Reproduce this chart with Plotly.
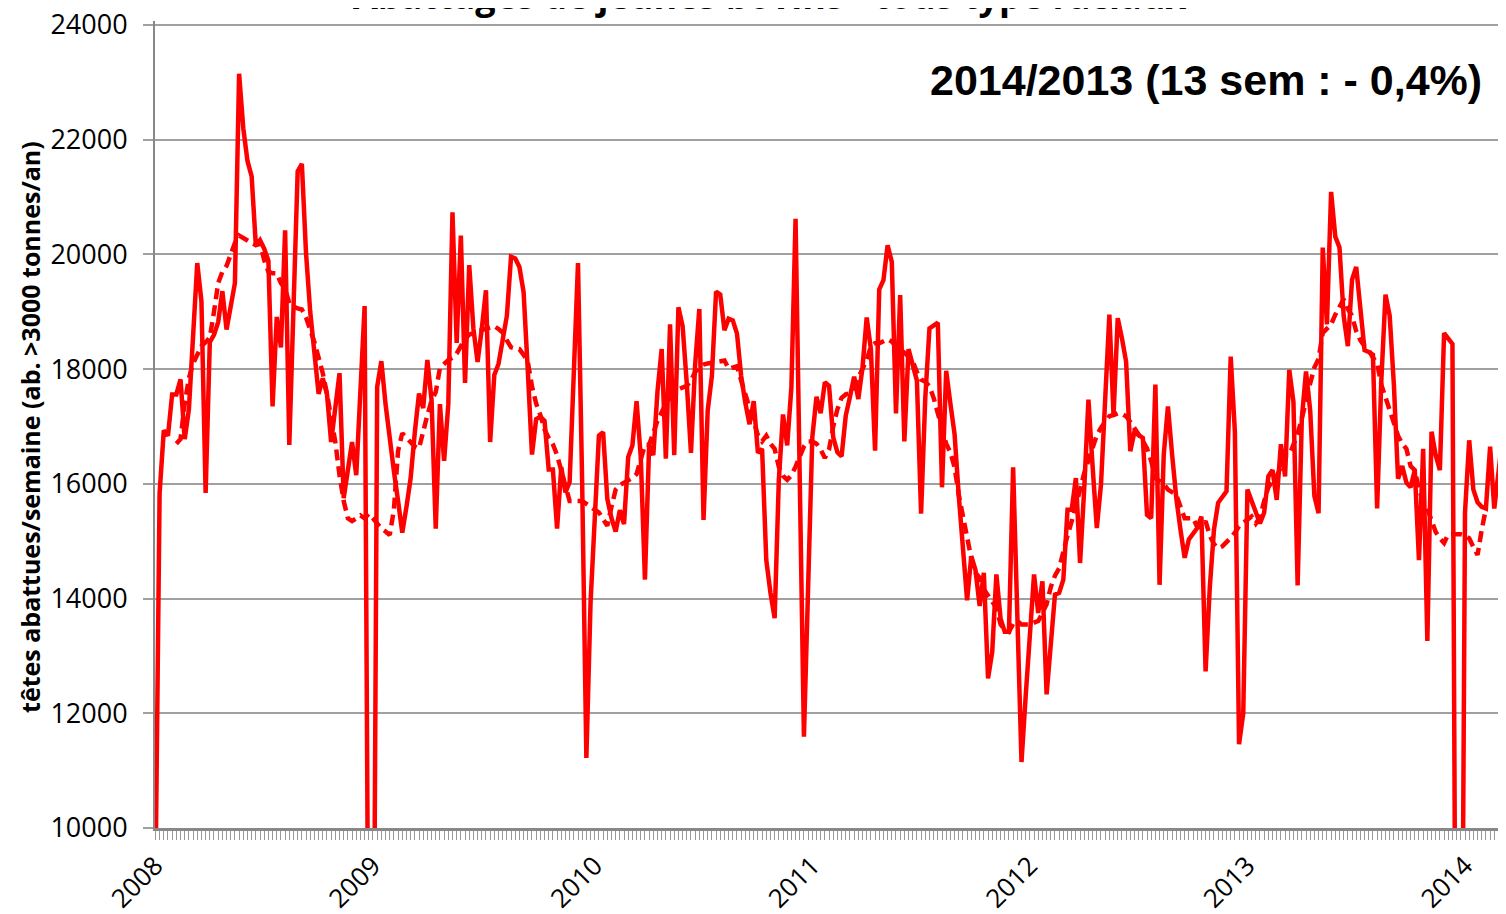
"""
Abattages de jeunes bovins - tous types raciaux.
Weekly heads slaughtered (solid) with its smoothed trend (dashed), 2008 - 2014.
"""

import plotly.graph_objects as go

# --- Data (weekly values) ---
# Solid line, one value per week, index 0 = first week of 2008
weeks_2008 = [9000, 15840, 16930, 16840, 17560, 17560, 17820, 16780, 17300, 18500,
              19850, 19180, 15840, 18470, 18600, 18820, 19360, 18690, 19100, 19500,
              23150, 22200, 21630, 21360, 20160, 20250, 20100, 19890, 17350, 18910,
              18380, 20420, 16680, 19000, 21450, 21580, 20020, 19000, 18200, 17570,
              17840, 17570, 16730, 17300, 17930, 15750, 16240, 16730, 16150, 17600,
              19100, 6000]
weeks_2009 = [4500, 17690, 18140, 17390, 16730, 16220, 15700, 15150, 15600, 16100,
              16900, 17575, 17320, 18160, 17460, 15220, 17390, 16400, 17390, 20735,
              18456, 20330, 17760, 19815, 18710, 18125, 18700, 19375, 16730, 17900,
              18090, 18490, 18930, 19960, 19930, 19780, 19340, 17980, 16510, 17130,
              17170, 17100, 16250, 16250, 15220, 16290, 15850, 16030, 17900, 19850,
              16000, 11220, 13930]
weeks_2010 = [15600, 16840, 16900, 15740, 15400, 15170, 15540, 15300, 16470, 16670,
              17440, 16470, 14330, 16670, 16500, 17610, 18350, 16440, 18780, 16500,
              19080, 18750, 17750, 16540, 18080, 19050, 15370, 17280, 17880, 19350,
              19300, 18680, 18880, 18850, 18620, 17880, 17410, 17040, 17440, 16540,
              16610, 14670, 14100, 13660, 16070, 17210, 16670, 17680, 20620, 16000,
              11590, 14200]
weeks_2011 = [16810, 17520, 17230, 17770, 17710, 16810, 16550, 16480, 17190, 17520,
              17870, 17480, 18030, 18900, 18350, 16580, 19390, 19550, 20160, 19870,
              17230, 19290, 16740, 18350, 18100, 17800, 15480, 17500, 18710, 18760,
              18810, 15940, 17970, 17400, 16870, 15800, 14900, 13970, 14740, 14500,
              13870, 14450, 12610, 13070, 14420, 13650, 13420, 13420, 16290, 13700,
              11150, 12300]
weeks_2012 = [13500, 14420, 13750, 14300, 12330, 13140, 14070, 14100, 14330, 15550,
              15550, 16100, 14620, 15930, 17470, 16300, 15230, 15990, 17490, 18950,
              17200, 18890, 18540, 18130, 16570, 16910, 16850, 16800, 15460, 15400,
              17730, 14240, 16510, 17350, 16510, 15750, 15200, 14710, 15030, 15140,
              15230, 15430, 12730, 14190, 15200, 15670, 15770, 15870, 18220, 16910,
              11460, 12000]
weeks_2013 = [15900, 15700, 15500, 15310, 15500, 16130, 16240, 15720, 16690, 16130,
              17990, 17430, 14230, 17140, 17960, 17280, 15790, 15490, 20120, 18780,
              21090, 20310, 20120, 18930, 18400, 19560, 19780, 19070, 18330, 18300,
              18250, 15570, 17800, 19300, 18930, 17730, 16090, 16310, 16020, 15940,
              16240, 14670, 16610, 13260, 16910, 16500, 16240, 18630, 18540, 18440,
              3000, 3000]
weeks_2014 = [15500, 16760, 15900, 15680, 15600, 15570, 16650, 15570, 16200, 16840]

# Dashed trend line, starts at week index 5
TREND_START = 5
trend_2008 = [16700, 16780, 17400, 17840, 18100, 18240, 18400, 18470, 18550, 19000,
              19500, 19700, 19800, 20000, 20200, 20330, 20280, 20250, 20200, 20160,
              20200, 19900, 19700, 19670, 19670, 19500, 19400, 19150, 19090, 19060,
              19040, 18900, 18700, 18470, 18200, 17930, 17570, 17130, 16730, 16150,
              15700, 15400, 15350, 15400, 15450, 15400, 15480]
trend_2009 = [15400, 15300, 15220, 15170, 15110, 15550, 16580, 16880, 16800, 16730,
              16650, 16620, 16950, 17200, 17450, 17600, 18020, 18100, 18160, 18200,
              18270, 18400, 18530, 18600, 18640, 18660, 18680, 18700, 18720, 18750,
              18700, 18640, 18500, 18380, 18360, 18350, 18250, 18130, 17700, 17400,
              17200, 16950, 16800, 16690, 16500, 16210, 15920, 15700, 15700, 15700,
              15700, 15650, 15590]
trend_2010 = [15550, 15500, 15400, 15270, 15600, 15900, 15980, 16020, 16060, 16100,
              16170, 16400, 16680, 16680, 16900, 17100, 17250, 17400, 17500, 17580,
              17650, 17680, 17710, 17800, 17950, 18030, 18080, 18100, 18110, 18120,
              18140, 18150, 18010, 18030, 18050, 17800, 17550, 17280, 17050, 16850,
              16740, 16840, 16700, 16610, 16300, 16140, 16070, 16150, 16300, 16470,
              16650, 16740]
trend_2011 = [16740, 16700, 16600, 16450, 16600, 17000, 17300, 17500, 17560, 17580,
              17680, 17850, 18000, 18160, 18400, 18450, 18450, 18480, 18520, 18480,
              18400, 18330, 18290, 18220, 18140, 17950, 17820, 17780, 17700, 17500,
              17230, 16900, 16700, 16550, 16290, 15810, 15420, 15100, 14700, 14450,
              14360, 14160, 14070, 13950, 13840, 13550, 13450, 13420, 13560, 13610,
              13550, 13550]
trend_2012 = [13550, 13580, 13610, 13750, 13900, 14200, 14400, 14530, 14850, 15100,
              15350, 15600, 15900, 16190, 16400, 16600, 16850, 16980, 17080, 17180,
              17200, 17230, 17220, 17180, 17080, 16980, 16860, 16750, 16620, 16400,
              16100, 16060, 16000, 15900, 15850, 15810, 15600, 15400, 15400, 15400,
              15250, 15250, 15350, 15100, 14950, 14880, 14910, 14980, 15060, 15150,
              15260, 15320]
trend_2013 = [15380, 15430, 15310, 15420, 15700, 15940, 16050, 16130, 16300, 16500,
              16500, 16700, 16870, 17140, 17470, 17750, 18030, 18180, 18630, 18700,
              18780, 18950, 19070, 19220, 19050, 18930, 18660, 18500, 18400, 18330,
              18200, 18100, 17730, 17500, 17280, 17060, 16840, 16700, 16610, 16310,
              16240, 15900, 15700, 15570, 15350, 15160, 15050, 14970, 15120, 15120,
              15120, 15120]
trend_2014 = [15100, 15050, 14900, 14760, 15200, 15570]

# Year labels and the week index where each one sits
YEAR_LABELS = ["2008", "2009", "2010", "2011", "2012", "2013", "2014"]
YEAR_WEEK_IDX = [0, 52, 105, 157, 209, 261, 313]

weekly = weeks_2008 + weeks_2009 + weeks_2010 + weeks_2011 + weeks_2012 + weeks_2013 + weeks_2014
trend = trend_2008 + trend_2009 + trend_2010 + trend_2011 + trend_2012 + trend_2013 + trend_2014

x_weekly = list(range(len(weekly)))
x_trend = list(range(TREND_START, TREND_START + len(trend)))

# --- Plot ---
RED = "#FF0000"
GRID = "#A0A0A0"
AXIS = "#888888"
TICK_FONT = dict(family="Open Sans", size=27, color="black")

fig = go.Figure()

fig.add_trace(go.Scatter(
    x=x_weekly, y=weekly, mode="lines", name="hebdo",
    line=dict(color=RED, width=4.5),
))
fig.add_trace(go.Scatter(
    x=x_trend, y=trend, mode="lines", name="tendance",
    line=dict(color=RED, width=4.5, dash="11px,6px"),
))

# page body adds 8px around the figure, margins account for it
fig.update_layout(
    width=1506, height=914,
    margin=dict(l=147, r=8, t=13, b=94, autoexpand=False),
    plot_bgcolor="white", paper_bgcolor="white",
    showlegend=False,
)

# top of range a bit above 24000 so its grid line is not dropped at the edge
fig.update_yaxes(
    range=[10000, 24070], dtick=2000, tick0=10000, tickformat="d", automargin=False,
    showgrid=True, gridcolor=GRID, gridwidth=2,
    showline=True, linecolor=AXIS, linewidth=2,
    ticks="outside", ticklen=10, tickcolor=GRID, tickwidth=2,
    tickfont=TICK_FONT, ticklabelstandoff=10, ticklabeloverflow="allow",
    zeroline=False,
)

fig.update_xaxes(
    range=[-0.1, 322.8], automargin=False,
    tickvals=YEAR_WEEK_IDX, ticktext=YEAR_LABELS, tickangle=-45,
    showgrid=False, zeroline=False,
    showline=True, linecolor=AXIS, linewidth=3,
    ticks="outside", ticklen=9, tickcolor="#999999", tickwidth=1,
    minor=dict(ticks="outside", dtick=1, tick0=0, ticklen=9,
               tickcolor="#999999", tickwidth=1),
    tickfont=dict(family="Open Sans", size=26, color="black"),
    ticklabelstandoff=0, ticklabeloverflow="allow",
)

# Chart title, clipped by the top of the picture as in the original
fig.add_annotation(
    text="<b>Abattages de jeunes bovins - tous type raciaux</b>",
    xref="paper", yref="paper", x=0.4545, y=0.9993,
    xanchor="center", yanchor="bottom", showarrow=False,
    font=dict(family="Open Sans", size=36, color="black"),
)

# Y axis title
fig.add_annotation(
    text="<b>têtes abattues/semaine (ab. >3000 tonnes/an)</b>",
    xref="paper", yref="paper", x=-0.0925, y=0.497,
    xanchor="center", yanchor="middle", textangle=-90, showarrow=False,
    font=dict(family="Open Sans", size=25, color="black"),
)

# Year-on-year comparison
fig.add_annotation(
    text="<b>2014/2013 (13 sem : - 0,4%)</b>",
    xref="paper", yref="paper", x=0.9837, y=0.9268,
    xanchor="right", yanchor="middle", showarrow=False,
    font=dict(family="Liberation Sans", size=43, color="black"),
)

fig.write_html("out.html")
